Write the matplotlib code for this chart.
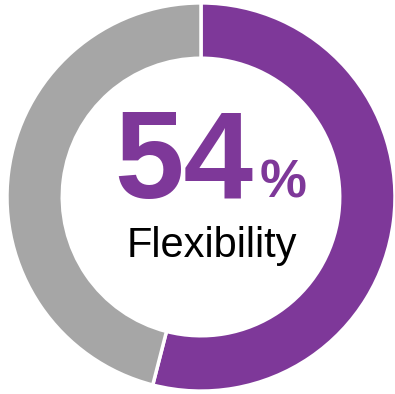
import matplotlib.pyplot as plt

# Donut data
labels = ['Flexibility', 'Other']
values = [54, 46]
colors = ['#7E3899', '#A6A6A6']
center_value = '54'
center_label = 'Flexibility'

plt.rcParams['font.family'] = ['Liberation Sans', 'DejaVu Sans']

fig = plt.figure(figsize=(3.95, 3.94), dpi=100)
ax = fig.add_axes([0, 0, 1, 1])

ax.pie(values, colors=colors, startangle=90, counterclock=False,
       radius=1.0, wedgeprops=dict(width=0.285, edgecolor='white', linewidth=2.5))

ax.set_xlim(-1.036, 1.0)
ax.set_ylim(-1.015, 1.015)
ax.set_aspect('auto')
ax.axis('off')

# Center text
ax.text(0.27, -0.005, center_value, ha='right', va='baseline',
        fontsize=90, fontweight='bold', color=colors[0])
ax.text(0.30, -0.005, '%', ha='left', va='baseline',
        fontsize=38, fontweight='bold', color=colors[0])
ax.text(0.057, -0.31, center_label, ha='center', va='baseline',
        fontsize=30, color='black')

fig.savefig('out.png', dpi=100)
